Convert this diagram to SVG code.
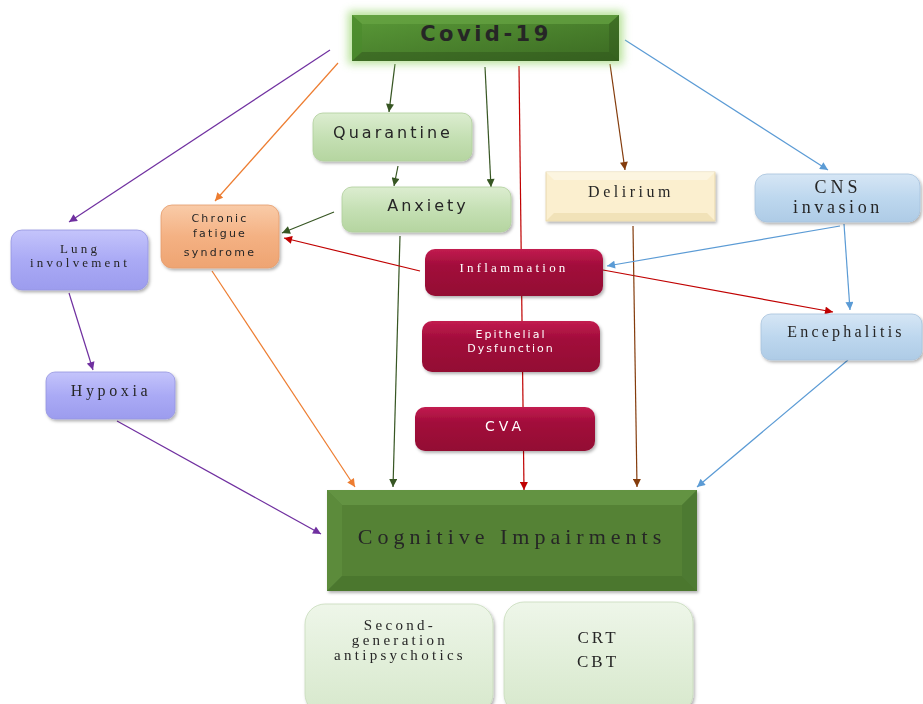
<svg xmlns="http://www.w3.org/2000/svg" width="923" height="704" viewBox="0 0 923 704">
<defs>
<style>
.c{fill:none;stroke-width:1.2}
.g{stroke:#375623}.r{stroke:#c00000}.b{stroke:#5b9bd5}.br{stroke:#843c0c}.p{stroke:#7030a0}.o{stroke:#ed7d31}
.sans{font-family:"DejaVu Sans",Verdana,sans-serif}
.serif{font-family:"Liberation Serif","Times New Roman",serif}
text{text-anchor:middle}
.dk{fill:#262626}
.wt{fill:#ffffff}
</style>
<filter id="sh" x="-10%" y="-10%" width="125%" height="130%"><feDropShadow dx="1.5" dy="2" stdDeviation="1.5" flood-color="#000" flood-opacity="0.3"/></filter>
<filter id="glow" x="-10%" y="-40%" width="120%" height="180%"><feGaussianBlur stdDeviation="4"/></filter>
<linearGradient id="gGreenL" x1="0" y1="0" x2="0" y2="1"><stop offset="0" stop-color="#dcedd0"/><stop offset="0.5" stop-color="#c5e0b4"/><stop offset="1" stop-color="#b5d5a0"/></linearGradient>
<linearGradient id="gOrange" x1="0" y1="0" x2="0" y2="1"><stop offset="0" stop-color="#f9cba8"/><stop offset="0.5" stop-color="#f4b183"/><stop offset="1" stop-color="#eea472"/></linearGradient>
<linearGradient id="gPurple" x1="0" y1="0" x2="0" y2="1"><stop offset="0" stop-color="#c4c4fb"/><stop offset="0.5" stop-color="#aaaaf5"/><stop offset="1" stop-color="#9c9cee"/></linearGradient>
<linearGradient id="gRed" x1="0" y1="0" x2="0" y2="1"><stop offset="0" stop-color="#c21c50"/><stop offset="0.35" stop-color="#a20d3b"/><stop offset="1" stop-color="#930a33"/></linearGradient>
<linearGradient id="gBlue" x1="0" y1="0" x2="0" y2="1"><stop offset="0" stop-color="#d6e6f5"/><stop offset="0.5" stop-color="#bdd7ee"/><stop offset="1" stop-color="#aecbe6"/></linearGradient>
<linearGradient id="gPale" x1="0" y1="0" x2="0" y2="1"><stop offset="0" stop-color="#eef6e9"/><stop offset="0.5" stop-color="#e2efda"/><stop offset="1" stop-color="#d7e8cc"/></linearGradient>
<linearGradient id="gCovid" x1="0" y1="0" x2="1" y2="1"><stop offset="0" stop-color="#5a9a38"/><stop offset="1" stop-color="#3b6a22"/></linearGradient>
<marker id="aG" viewBox="0 0 10 10" refX="10" refY="5" markerWidth="9" markerHeight="8" markerUnits="userSpaceOnUse" orient="auto"><path d="M0,0L10,5L0,10z" fill="#375623"/></marker>
<marker id="aR" viewBox="0 0 10 10" refX="10" refY="5" markerWidth="9" markerHeight="8" markerUnits="userSpaceOnUse" orient="auto"><path d="M0,0L10,5L0,10z" fill="#c00000"/></marker>
<marker id="aB" viewBox="0 0 10 10" refX="10" refY="5" markerWidth="9" markerHeight="8" markerUnits="userSpaceOnUse" orient="auto"><path d="M0,0L10,5L0,10z" fill="#5b9bd5"/></marker>
<marker id="aBr" viewBox="0 0 10 10" refX="10" refY="5" markerWidth="9" markerHeight="8" markerUnits="userSpaceOnUse" orient="auto"><path d="M0,0L10,5L0,10z" fill="#843c0c"/></marker>
<marker id="aP" viewBox="0 0 10 10" refX="10" refY="5" markerWidth="9" markerHeight="8" markerUnits="userSpaceOnUse" orient="auto"><path d="M0,0L10,5L0,10z" fill="#7030a0"/></marker>
<marker id="aO" viewBox="0 0 10 10" refX="10" refY="5" markerWidth="9" markerHeight="8" markerUnits="userSpaceOnUse" orient="auto"><path d="M0,0L10,5L0,10z" fill="#ed7d31"/></marker>
</defs>
<rect width="923" height="704" fill="#ffffff"/>

<g id="connectors">
<line class="c g" x1="395" y1="64" x2="389" y2="112" marker-end="url(#aG)"/>
<line class="c g" x1="398" y1="166" x2="394" y2="186" marker-end="url(#aG)"/>
<line class="c g" x1="485" y1="67" x2="491" y2="187" marker-end="url(#aG)"/>
<line class="c g" x1="334" y1="212" x2="282" y2="233" marker-end="url(#aG)"/>
<line class="c g" x1="400" y1="236" x2="393" y2="487" marker-end="url(#aG)"/>
<line class="c r" x1="519" y1="66" x2="524" y2="490" marker-end="url(#aR)"/>
<line class="c r" x1="420" y1="271" x2="284" y2="238" marker-end="url(#aR)"/>
<line class="c r" x1="603" y1="270" x2="833" y2="312" marker-end="url(#aR)"/>
<line class="c br" x1="610" y1="64" x2="625" y2="170" marker-end="url(#aBr)"/>
<line class="c br" x1="633" y1="226" x2="637" y2="487" marker-end="url(#aBr)"/>
<line class="c b" x1="625" y1="40" x2="828" y2="170" marker-end="url(#aB)"/>
<line class="c b" x1="840" y1="226" x2="607" y2="266" marker-end="url(#aB)"/>
<line class="c b" x1="844" y1="224" x2="850" y2="310" marker-end="url(#aB)"/>
<line class="c b" x1="848" y1="360" x2="697" y2="487" marker-end="url(#aB)"/>
<line class="c p" x1="330" y1="50" x2="69" y2="222" marker-end="url(#aP)"/>
<line class="c p" x1="69" y1="293" x2="93" y2="370" marker-end="url(#aP)"/>
<line class="c p" x1="117" y1="421" x2="321" y2="534" marker-end="url(#aP)"/>
<line class="c o" x1="338" y1="63" x2="215" y2="201" marker-end="url(#aO)"/>
<line class="c o" x1="212" y1="271" x2="355" y2="487" marker-end="url(#aO)"/>
</g>

<g id="covid">
<rect x="348" y="11" width="275" height="53" fill="#a8dc84" opacity="0.8" filter="url(#glow)"/>
<rect x="352" y="15" width="267" height="46" fill="url(#gCovid)"/>
<polygon points="352,15 619,15 609,24 362,24" fill="#6aa846" opacity="0.6"/>
<polygon points="352,15 362,24 362,52 352,61" fill="#4a8a2c" opacity="0.6"/>
<polygon points="352,61 362,52 609,52 619,61" fill="#2f561b" opacity="0.5"/>
<polygon points="619,15 609,24 609,52 619,61" fill="#2f561b" opacity="0.4"/>
<text x="486" y="41" class="sans dk" font-size="21" font-weight="bold" letter-spacing="3.5">Covid-19</text>
</g>

<g id="quarantine" filter="url(#sh)">
<rect x="313" y="113" width="159" height="48" rx="10" fill="url(#gGreenL)" stroke="#b0cf9c" stroke-width="0.8"/>
<text x="393" y="138" class="sans dk" font-size="16" letter-spacing="3">Quarantine</text>
</g>

<g id="anxiety" filter="url(#sh)">
<rect x="342" y="187" width="169" height="45" rx="10" fill="url(#gGreenL)" stroke="#b0cf9c" stroke-width="0.8"/>
<text x="428" y="211" class="sans dk" font-size="16" letter-spacing="3">Anxiety</text>
</g>

<g id="delirium" filter="url(#sh)">
<rect x="546" y="172" width="169" height="49" fill="#fbefcf" stroke="#e3d3a6" stroke-width="0.8"/>
<polygon points="546,172 715,172 707,180 554,180" fill="#fdf6e3" opacity="0.8"/>
<polygon points="546,221 554,213 707,213 715,221" fill="#efdfb2" opacity="0.8"/>
<text x="631" y="197" class="serif dk" font-size="16" letter-spacing="3.5">Delirium</text>
</g>

<g id="cns" filter="url(#sh)">
<rect x="755" y="174" width="165" height="48" rx="12" fill="url(#gBlue)" stroke="#a7c3dd" stroke-width="0.8"/>
<text x="838" y="193" class="serif dk" font-size="18" letter-spacing="4">CNS</text>
<text x="838" y="213" class="serif dk" font-size="18" letter-spacing="3.6">invasion</text>
</g>

<g id="chronic" filter="url(#sh)">
<rect x="161" y="205" width="118" height="63" rx="11" fill="url(#gOrange)" stroke="#e49c6c" stroke-width="0.8"/>
<text x="220" y="222" class="sans dk" font-size="11" letter-spacing="2.2">Chronic</text>
<text x="220" y="237" class="sans dk" font-size="11" letter-spacing="2.2">fatigue</text>
<text x="220" y="256" class="sans dk" font-size="11" letter-spacing="2.2">syndrome</text>
</g>

<g id="lung" filter="url(#sh)">
<rect x="11" y="230" width="137" height="60" rx="11" fill="url(#gPurple)" stroke="#9696e0" stroke-width="0.8"/>
<text x="80" y="253" class="serif dk" font-size="13" letter-spacing="3.2">Lung</text>
<text x="80" y="267" class="serif dk" font-size="13" letter-spacing="3.2">involvement</text>
</g>

<g id="hypoxia" filter="url(#sh)">
<rect x="46" y="372" width="129" height="47" rx="9" fill="url(#gPurple)" stroke="#9696e0" stroke-width="0.8"/>
<text x="111" y="396" class="serif dk" font-size="16" letter-spacing="3.6">Hypoxia</text>
</g>

<g id="inflammation" filter="url(#sh)">
<rect x="425" y="249" width="178" height="47" rx="10" fill="url(#gRed)"/>
<text x="514" y="272" class="serif wt" font-size="13" letter-spacing="3.2">Inflammation</text>
</g>

<g id="epithelial" filter="url(#sh)">
<rect x="422" y="321" width="178" height="51" rx="10" fill="url(#gRed)"/>
<text x="511" y="338" class="sans wt" font-size="11" letter-spacing="2">Epithelial</text>
<text x="511" y="352" class="sans wt" font-size="11" letter-spacing="2">Dysfunction</text>
</g>

<g id="cva" filter="url(#sh)">
<rect x="415" y="407" width="180" height="44" rx="10" fill="url(#gRed)"/>
<text x="505" y="431" class="sans wt" font-size="14" letter-spacing="4">CVA</text>
</g>

<g id="encephalitis" filter="url(#sh)">
<rect x="761" y="314" width="161" height="46" rx="10" fill="url(#gBlue)" stroke="#a7c3dd" stroke-width="0.8"/>
<text x="846" y="337" class="serif dk" font-size="16" letter-spacing="3.2">Encephalitis</text>
</g>

<g id="cognitive" filter="url(#sh)">
<rect x="327" y="490" width="370" height="101" fill="#548235"/>
<polygon points="327,490 697,490 682,505 342,505" fill="#6a9a48" opacity="0.7"/>
<polygon points="327,490 342,505 342,576 327,591" fill="#5f8f3e" opacity="0.7"/>
<polygon points="327,591 342,576 682,576 697,591" fill="#466f2b" opacity="0.6"/>
<polygon points="697,490 682,505 682,576 697,591" fill="#4a7530" opacity="0.6"/>
<text x="512" y="544" class="serif dk" font-size="22" letter-spacing="5">Cognitive Impairments</text>
</g>

<g id="antipsychotics" filter="url(#sh)">
<rect x="305" y="604" width="188" height="110" rx="20" fill="url(#gPale)" stroke="#c8dcbb" stroke-width="0.8"/>
<text x="400" y="630" class="serif dk" font-size="15" letter-spacing="3.3">Second-</text>
<text x="400" y="645" class="serif dk" font-size="15" letter-spacing="3.3">generation</text>
<text x="400" y="660" class="serif dk" font-size="15" letter-spacing="3.3">antipsychotics</text>
</g>

<g id="crtcbt" filter="url(#sh)">
<rect x="504" y="602" width="189" height="112" rx="20" fill="url(#gPale)" stroke="#c8dcbb" stroke-width="0.8"/>
<text x="598" y="643" class="serif dk" font-size="17" letter-spacing="3">CRT</text>
<text x="598" y="667" class="serif dk" font-size="17" letter-spacing="3">CBT</text>
</g>
</svg>
